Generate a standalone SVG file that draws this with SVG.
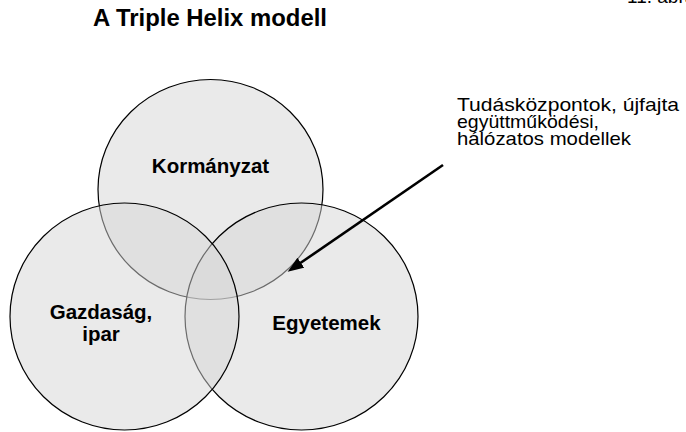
<svg xmlns="http://www.w3.org/2000/svg" width="686" height="432" viewBox="0 0 686 432">
<style>
.c{fill:#d6d6d6;fill-opacity:0.5;stroke:#000;stroke-width:1.2}
.lb{font-family:"Liberation Sans",Arial,sans-serif;font-weight:bold;font-size:20.5px;fill:#000;text-anchor:middle}
.tx{font-family:"Liberation Sans",Arial,sans-serif;font-size:19px;fill:#000}
</style>
<defs>
<marker id="ah" markerUnits="userSpaceOnUse" markerWidth="16" markerHeight="12" refX="1" refY="6" orient="auto">
<path d="M0,0 L16,6 L0,12 z" fill="#000"/>
</marker>
</defs>
<rect width="686" height="432" fill="#fff"/>
<text class="tx" x="627" y="3" font-size="18">11. ábra</text>
<text x="93" y="26" font-family="'Liberation Sans',Arial,sans-serif" font-weight="bold" font-size="23" textLength="234" lengthAdjust="spacingAndGlyphs">A Triple Helix modell</text>
<g id="kormanyzat">
<ellipse class="c" cx="210.5" cy="189.5" rx="112.5" ry="110"/>
<text class="lb" x="210.5" y="173">Kormányzat</text>
</g>
<g id="egyetemek">
<ellipse class="c" cx="301.5" cy="316.5" rx="116.5" ry="113.5"/>
<text class="lb" x="326.5" y="330">Egyetemek</text>
</g>
<g id="gazdasag">
<ellipse class="c" cx="124.5" cy="316.5" rx="114.5" ry="113.5"/>
<text class="lb" x="101" y="318.5">Gazdaság,</text>
<text class="lb" x="101" y="341">ipar</text>
</g>
<g id="note">
<text class="tx" x="457" y="111" textLength="222" lengthAdjust="spacingAndGlyphs">Tudásközpontok, újfajta</text>
<text class="tx" x="457" y="128" textLength="142" lengthAdjust="spacingAndGlyphs">együttműködési,</text>
<text class="tx" x="457" y="145" textLength="174" lengthAdjust="spacingAndGlyphs">hálózatos modellek</text>
</g>
<g id="connectors">
<line x1="443" y1="165" x2="300" y2="263.3" stroke="#000" stroke-width="2.6" marker-end="url(#ah)"/>
</g>
</svg>
